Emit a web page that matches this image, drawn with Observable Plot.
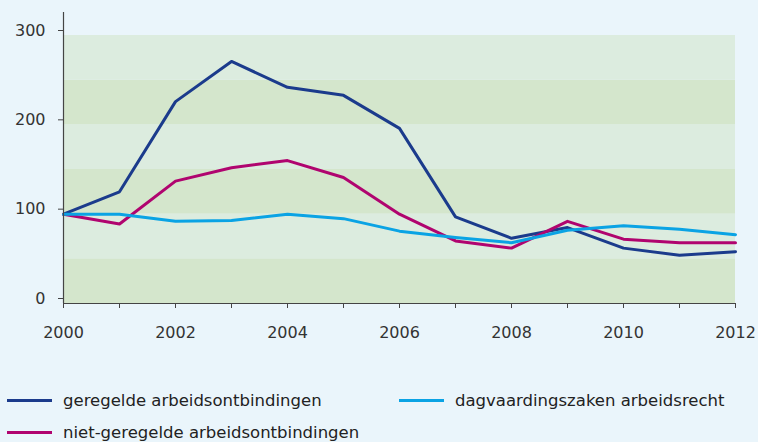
<!DOCTYPE html>
<html><head><meta charset="utf-8">
<script src="https://cdn.jsdelivr.net/npm/d3@7"></script>
<script src="https://cdn.jsdelivr.net/npm/@observablehq/plot@0.6"></script>
<style>
body{margin:0;background:#eaf5fb;font-family:"DejaVu Sans",sans-serif;}
#legend{position:relative;height:72px;font-size:16.5px;color:#222;}
.item{position:absolute;display:flex;align-items:center;white-space:nowrap;}
.sw{width:45px;height:3px;margin-right:11px;}
</style></head><body>
<div id="chart"></div>
<div id="legend"></div>
<script>
const years = [2000,2001,2002,2003,2004,2005,2006,2007,2008,2009,2010,2011,2012];
const geregelde = [100,125,226,271,242,233,196,97,73,85,62,54,58];
const nietGeregelde = [100,89,137,152,160,141,100,70,62,92,72,68,68];
const dagvaarding = [100,100,92,93,100,95,81,74,68,82,87,83,77];
const seriesNames = ["geregelde arbeidsontbindingen","niet-geregelde arbeidsontbindingen","dagvaardingszaken arbeidsrecht"];
const seriesColors = ["#1b3b8c","#b0046f","#0aa3e4"];
const yTicks = [0,100,200,300];
const bandEdges = [0,50,100,150,200,250,300];

const allSeries = [geregelde, nietGeregelde, dagvaarding];
const rows = [];
allSeries.forEach((vals,i)=>vals.forEach((v,j)=>rows.push({year:years[j],value:v,series:seriesNames[i]})));
const bands = bandEdges.slice(0,-1).map((b,i)=>({y1:b,y2:bandEdges[i+1],dark:i%2===0}));

const chart = Plot.plot({
  width:758, height:370,
  marginLeft:63, marginRight:23, marginTop:12, marginBottom:67,
  style:{background:"transparent",fontFamily:"'DejaVu Sans',sans-serif",fontSize:"16px",color:"#333"},
  x:{domain:[2000,2012],label:null},
  y:{domain:[0,300*291/268],label:null},
  color:{domain:seriesNames,range:seriesColors},
  marks:[
    Plot.rectY(bands,{x1:years[0],x2:years[years.length-1],y1:"y1",y2:"y2",fill:d=>d.dark?"#d4e6cc":"#dcecdf"}),
    Plot.line(rows,{x:"year",y:"value",stroke:"series",strokeWidth:3,z:"series"}),
    Plot.ruleX([years[0]],{stroke:"#444",strokeWidth:1.2}),
    Plot.ruleY([0],{stroke:"#444",strokeWidth:1.2}),
    Plot.axisX({ticks:years,tickSize:5,tickFormat:d=>d%2===0?String(d):"",tickPadding:18,stroke:"#444",fill:"#333",label:null}),
    Plot.axisY({ticks:yTicks,tickSize:5,tickPadding:13,dy:-5,stroke:"#444",fill:"#333",label:null})
  ]
});
document.getElementById("chart").appendChild(chart);

const legend = document.getElementById("legend");
const pos = [[7,30],[399,30],[7,62]];
const order = [0,2,1];
order.forEach((si,k)=>{
  const it = document.createElement("div");
  it.className="item";
  it.style.left=pos[k][0]+"px"; it.style.top=(pos[k][1]-11)+"px"; it.style.height="22px";
  it.innerHTML=`<span class="sw" style="background:${seriesColors[si]}"></span><span>${seriesNames[si]}</span>`;
  legend.appendChild(it);
});
</script></body></html>
